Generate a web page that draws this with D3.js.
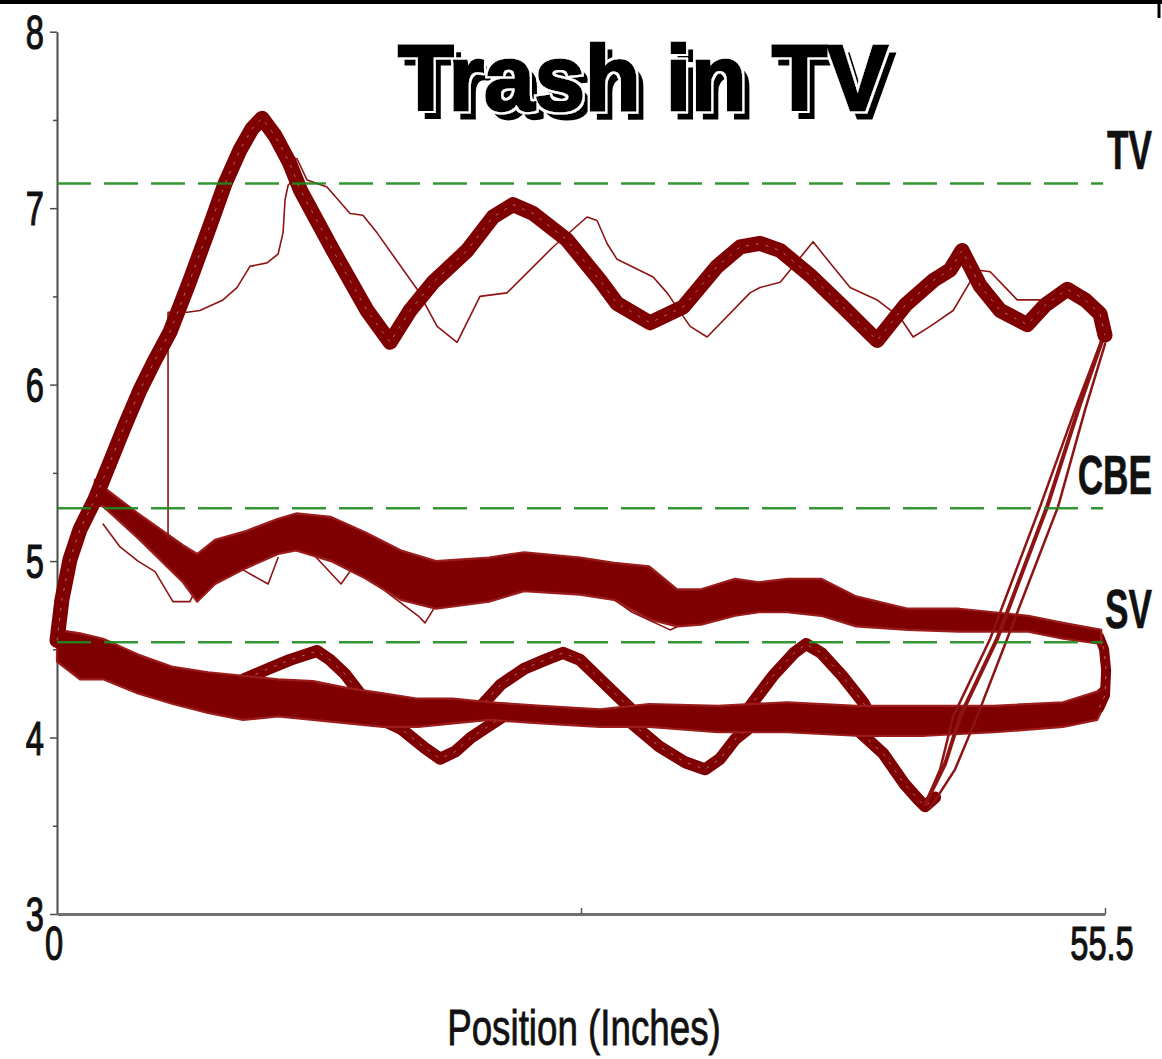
<!DOCTYPE html>
<html>
<head>
<meta charset="utf-8">
<script src="https://cdn.jsdelivr.net/npm/d3@7"></script>
<style>
  body { margin: 0; background: #ffffff; }
  svg { display: block; }
</style>
</head>
<body>
<svg id="chart" width="1162" height="1059">
  <defs>
    <!-- heavy title: white halo plus a black drop copy offset down-right -->
    <filter id="titleFx" x="-5%" y="-25%" width="115%" height="160%">
      <feMorphology in="SourceAlpha" operator="dilate" radius="2" result="halo"/>
      <feFlood flood-color="#ffffff" result="white"/>
      <feComposite in="white" in2="halo" operator="in" result="whiteHalo"/>
      <feOffset in="SourceAlpha" dx="7" dy="8" result="drop"/>
      <feMerge>
        <feMergeNode in="drop"/>
        <feMergeNode in="whiteHalo"/>
        <feMergeNode in="SourceGraphic"/>
      </feMerge>
    </filter>
  </defs>
</svg>
<script>
// ---- Axis definitions ----
const xDomain = [0, 55.5];
const yDomain = [3, 8];
const yMajorTicks = [3, 4, 5, 6, 7, 8];
const yMinorTicks = [3.5, 4.5, 5.5, 6.5, 7.5];
const xTickValues = [27.75, 55.5];
const xTickLabels = [{ v: 0, t: "0" }, { v: 55.5, t: "55.5" }];

// ---- Reference levels (volts) ----
const refNames = ["TV", "CBE", "SV"];
const refLevels = [7.14, 5.30, 4.54];

// ---- Traces: [position (in), volts] ----
// Upper (TV) bundle centre line
const tvBundle = [
  [0, 4.55], [0.26, 4.78], [0.69, 5.01], [1.22, 5.18], [2.01, 5.35], [2.81, 5.56],
  [3.6, 5.77], [4.4, 5.97], [5.19, 6.14], [5.99, 6.3], [7.04, 6.59], [8.1, 6.9],
  [8.9, 7.14], [9.69, 7.33], [10.33, 7.45], [10.86, 7.51], [11.55, 7.41], [12.3, 7.26],
  [12.9, 7.1], [14.62, 6.76], [16.42, 6.42], [17.64, 6.24], [18.7, 6.42], [19.92, 6.58],
  [21.72, 6.76], [23.09, 6.95], [24.15, 7.02], [25.21, 6.97], [27.01, 6.82], [28.76, 6.59],
  [29.66, 6.46], [31.41, 6.35], [33.16, 6.44], [34.96, 6.67], [36.18, 6.78], [37.23, 6.8],
  [38.3, 6.76], [39.88, 6.62], [41.63, 6.44], [43.43, 6.25], [44.92, 6.45], [46.4, 6.59],
  [47.3, 6.65], [47.93, 6.76], [48.89, 6.56], [49.95, 6.42], [51.38, 6.34], [52.33, 6.45],
  [53.5, 6.54], [54.45, 6.48], [55.24, 6.4], [55.5, 6.28]
];

// Late passes that lag the main TV bundle
const tvLateA = [
  [5.88, 5.12], [5.88, 6.41], [6.89, 6.41], [7.57, 6.42], [8.79, 6.48], [9.53, 6.55],
  [10.22, 6.67], [11.12, 6.69], [11.71, 6.74], [11.97, 6.86], [12.08, 7.05], [12.24, 7.13], [12.5, 7.16]
];
const tvLateB = [
  [12.0, 7.3], [12.71, 7.28], [13.24, 7.16], [14.3, 7.12], [15.52, 6.97], [16.2, 6.96],
  [16.95, 6.86], [19.07, 6.54], [20.13, 6.33], [21.19, 6.24], [22.4, 6.5], [23.83, 6.52],
  [26.27, 6.78], [28.07, 6.95], [28.6, 6.93], [29.13, 6.8], [29.66, 6.71], [31.57, 6.61],
  [32.31, 6.52], [33.53, 6.33], [34.43, 6.27], [36.7, 6.52], [37.23, 6.55], [38.3, 6.58],
  [38.98, 6.67], [40.04, 6.81], [40.78, 6.71], [42.0, 6.55], [43.43, 6.48], [44.65, 6.38],
  [45.34, 6.27], [46.24, 6.33], [47.46, 6.42], [48.73, 6.65], [49.42, 6.64], [50.32, 6.54],
  [50.85, 6.48], [52.07, 6.48]
];

// Middle (CBE) band: position, upper edge, lower edge
const cbeX =     [2.01, 2.44, 4.29, 6.67, 7.42, 8.37, 10.01, 11.71, 12.66, 14.51, 16.37, 18.22, 20.07, 22.88, 24.74, 27.7, 29.5, 31.36, 32.84, 34.11, 35.91, 37.18, 38.67, 40.47, 42.32, 45.07, 47.78, 51.43, 53.28, 55.3];
const cbeTop =   [5.46, 5.42, 5.27, 5.09, 5.04, 5.12, 5.17, 5.24, 5.27, 5.25, 5.16, 5.06, 5.0, 5.02, 5.05, 5.02, 4.99, 4.97, 4.84, 4.84, 4.9, 4.88, 4.9, 4.9, 4.8, 4.73, 4.73, 4.69, 4.65, 4.61];
const cbeBottom =[5.32, 5.31, 5.13, 4.88, 4.77, 4.87, 4.96, 5.04, 5.06, 5.0, 4.9, 4.78, 4.73, 4.77, 4.83, 4.81, 4.78, 4.67, 4.63, 4.64, 4.69, 4.71, 4.71, 4.69, 4.63, 4.61, 4.6, 4.6, 4.56, 4.53];

// Passes that dip under the CBE band
const cbeStrays = [
  [[2.44, 5.21], [3.34, 5.08], [4.29, 5.0], [5.19, 4.94], [6.14, 4.77], [7.04, 4.77], [7.79, 4.94], [8.37, 5.01]],
  [[9.16, 5.0], [10.01, 4.94], [11.18, 4.87], [11.71, 5.02]],
  [[12.66, 5.06], [13.56, 5.04], [15.04, 4.87], [15.78, 4.98]],
  [[16.37, 4.9], [17.27, 4.84], [19.12, 4.69], [19.49, 4.65], [20.07, 4.75], [20.6, 4.77]],
  [[27.7, 4.9], [28.6, 4.85], [30.46, 4.71], [32.47, 4.61], [33.5, 4.66]]
];

// Lower band: position, upper edge, lower edge
const lowX =      [0, 1.22, 2.44, 4.29, 6.14, 8.0, 9.85, 11.71, 13.56, 15.41, 17.27, 19.12, 20.97, 22.88, 25.64, 28.76, 31.36, 35.01, 38.67, 42.32, 45.97, 49.63, 53.28, 55.08, 55.5];
const lowTop =    [4.61, 4.59, 4.56, 4.47, 4.4, 4.37, 4.35, 4.33, 4.32, 4.28, 4.25, 4.22, 4.22, 4.2, 4.18, 4.16, 4.19, 4.18, 4.2, 4.18, 4.18, 4.18, 4.2, 4.26, 4.3];
const lowBottom = [4.43, 4.33, 4.33, 4.25, 4.19, 4.14, 4.1, 4.12, 4.1, 4.08, 4.06, 4.06, 4.08, 4.1, 4.08, 4.06, 4.06, 4.03, 4.03, 4.01, 4.01, 4.03, 4.06, 4.1, 4.19];

// Right-hand turn linking the CBE band and the lower band
const rightTurn = [[55.2, 4.57], [55.45, 4.5], [55.56, 4.38], [55.5, 4.24], [55.2, 4.17]];

// Excursion bundles leaving and rejoining the lower band
const bump1 = [[8.6, 4.26], [9.9, 4.33], [11.2, 4.39], [12.34, 4.44], [13.77, 4.49], [14.46, 4.44], [15.26, 4.36], [16.4, 4.2]];
const dip1  = [[16.0, 4.16], [18.22, 4.05], [19.49, 3.94], [20.29, 3.88], [21.08, 3.92], [21.93, 4.0], [23.78, 4.13]];
const bump2 = [[22.3, 4.16], [23.5, 4.3], [24.74, 4.39], [25.85, 4.44], [26.8, 4.48], [27.7, 4.44], [28.76, 4.33], [30.8, 4.12]];
const dip2  = [[30.0, 4.12], [31.89, 3.95], [33.26, 3.86], [34.32, 3.82], [35.12, 3.88], [35.91, 3.99], [37.2, 4.1]];
const bump3 = [[36.3, 4.12], [37.92, 4.35], [39.04, 4.48], [39.67, 4.53], [40.47, 4.48], [41.58, 4.35], [42.69, 4.2], [43.2, 4.1]];
const dip3  = [[41.8, 4.1], [43.75, 3.91], [44.86, 3.74], [45.6, 3.65], [45.97, 3.61], [46.5, 3.66]];

// Return passes climbing from the deep dip to the TV bundle end
const climb1 = [[45.97, 3.62], [46.77, 3.82], [47.46, 4.12], [49.42, 4.56], [52.07, 5.31], [53.92, 5.86], [55.24, 6.23], [55.5, 6.31]];
const climb2 = [[45.97, 3.62], [47.03, 3.85], [47.83, 4.12], [49.79, 4.56], [52.44, 5.31], [54.18, 5.89], [55.35, 6.25]];
const climb3 = [[46.24, 3.6], [47.56, 3.82], [48.73, 4.12], [50.32, 4.56], [53.02, 5.31], [54.45, 5.86], [55.5, 6.23]];

// ---- Drawing ----
const svg = d3.select("#chart");
const x = d3.scaleLinear().domain(xDomain).range([57, 1105]);
const y = d3.scaleLinear().domain(yDomain).range([914, 31.7]);

const DARK = "#7e0000";
const THIN = "#8e1414";
const SPECK = "#f0b8b8";

// frame line along the top edge
svg.append("line").attr("x1", 0).attr("x2", 1162).attr("y1", 2).attr("y2", 2)
  .attr("stroke", "#000").attr("stroke-width", 4);
svg.append("line").attr("x1", 1159).attr("x2", 1159).attr("y1", 0).attr("y2", 18)
  .attr("stroke", "#000").attr("stroke-width", 3);

// axes
const yAxis = d3.axisLeft(y).tickValues(yMajorTicks).tickSize(7).tickSizeOuter(0).tickFormat("");
const gy = svg.append("g").attr("transform", "translate(57,0)").call(yAxis);
gy.select(".domain").attr("stroke", "#4a4a4a").attr("stroke-width", 2);
gy.selectAll(".tick line").attr("stroke", "#4a4a4a").attr("stroke-width", 1.5);
const yMinor = d3.axisLeft(y).tickValues(yMinorTicks).tickSize(4).tickFormat("");
const gyMinor = svg.append("g").attr("transform", "translate(57,0)").call(yMinor);
gyMinor.select(".domain").remove();
gyMinor.selectAll(".tick line").attr("stroke", "#4a4a4a").attr("stroke-width", 1.5);

const xAxis = d3.axisBottom(x).tickValues(xTickValues).tickSizeInner(-6).tickSizeOuter(0).tickFormat("");
const gx = svg.append("g").attr("transform", "translate(0,914)").call(xAxis);
gx.select(".domain").attr("stroke", "#707070").attr("stroke-width", 3);
gx.selectAll(".tick line").attr("stroke", "#555").attr("stroke-width", 1.5);

// condensed label helper
function condensed(g, txt, px, py, size, sx, anchor, weight, heavy) {
  g.append("text")
    .attr("transform", `translate(${px},${py}) scale(${sx},1)`)
    .attr("text-anchor", anchor)
    .attr("font-family", "Liberation Sans, Arial, sans-serif")
    .attr("font-size", size)
    .attr("font-weight", weight || "normal")
    .attr("fill", "#111")
    .attr("stroke", "#111").attr("stroke-width", heavy || 0)
    .text(txt);
}

const labels = svg.append("g");
yMajorTicks.forEach(v => condensed(labels, String(v), 44, y(v) + 17, 48, 0.68, "end", "normal", 1.2));
xTickLabels.forEach(d => condensed(labels, d.t, x(d.v) - 3, 960, 48, 0.68, "middle", "normal", 1.2));
condensed(labels, "Position (Inches)", 584, 1045, 49, 0.75, "middle", "normal", 0.8);

// traces
const line = d3.line().x(d => x(d[0])).y(d => y(d[1]));
const traces = svg.append("g").attr("stroke-linejoin", "round").attr("stroke-linecap", "round");

function band(xs, top, bottom) {
  const pts = xs.map((v, i) => ({ v, t: top[i], b: bottom[i] }));
  const area = d3.area().x(d => x(d.v)).y0(d => y(d.b)).y1(d => y(d.t));
  traces.append("path").datum(pts).attr("d", area)
    .attr("fill", DARK).attr("stroke", "#9c1c1c").attr("stroke-width", 2.2);
}

// a bundle of overlapping passes: dark body with faint light flecks between strands
function bundle(pts, w) {
  traces.append("path").datum(pts).attr("d", line)
    .attr("fill", "none").attr("stroke", DARK).attr("stroke-width", w);
  traces.append("path").datum(pts).attr("d", line)
    .attr("fill", "none").attr("stroke", SPECK).attr("stroke-width", 1)
    .attr("stroke-linecap", "butt")
    .attr("stroke-dasharray", "3 7").attr("opacity", 0.55);
}

function thin(pts, w) {
  traces.append("path").datum(pts).attr("d", line)
    .attr("fill", "none").attr("stroke", THIN).attr("stroke-width", w || 1.5);
}

// lower band with its excursions
[bump1, dip1, bump2, dip2, bump3, dip3].forEach(b => bundle(b, 12));
band(lowX, lowTop, lowBottom);
bundle(rightTurn, 10);

// CBE band
cbeStrays.forEach(s => thin(s, 1.6));
band(cbeX, cbeTop, cbeBottom);

// climbing return passes
thin(climb1, 2.5);
thin(climb2, 4);
thin(climb3, 2.5);

// TV bundle
thin(tvLateA, 1.6);
thin(tvLateB, 1.6);
bundle(tvBundle, 15);

// dashed reference levels and their names
const refs = svg.append("g");
refLevels.forEach((v, i) => {
  refs.append("line")
    .attr("x1", x(0)).attr("x2", x(55.4))
    .attr("y1", y(v)).attr("y2", y(v))
    .attr("stroke", "#1f8a1f").attr("stroke-width", 2.5)
    .attr("stroke-dasharray", "34 13").attr("opacity", 0.9);
  condensed(refs, refNames[i], 1152, y(v) - 14, 55, 0.64, "end", "bold", 0.6);
});

// title
svg.append("text")
  .attr("x", 398).attr("y", 110)
  .attr("textLength", 490).attr("lengthAdjust", "spacingAndGlyphs")
  .attr("font-family", "Liberation Sans, Arial, sans-serif")
  .attr("font-weight", "bold").attr("font-size", 92)
  .attr("fill", "#000").attr("stroke", "#000").attr("stroke-width", 3)
  .attr("filter", "url(#titleFx)")
  .text("Trash in TV");
</script>
</body>
</html>
